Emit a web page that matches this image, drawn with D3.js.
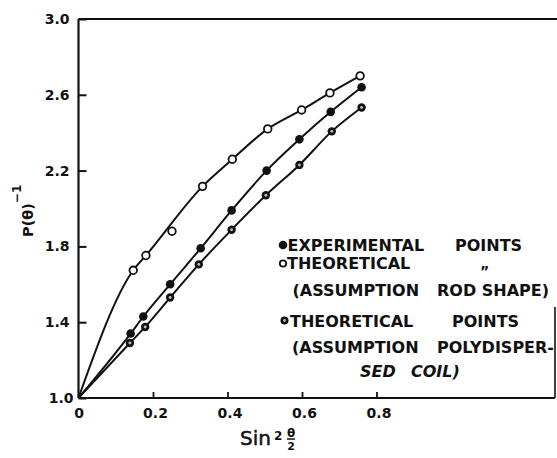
<!DOCTYPE html>
<html>
<head>
<meta charset="utf-8">
<script src="https://cdn.jsdelivr.net/npm/d3@7"></script>
<style>
  body { margin: 0; background: #fff; }
  svg { display: block; }
  text { fill: #111; }
</style>
</head>
<body>
<div id="chart"></div>
<script>
var width = 557,
    height = 458;

// values (sin^2(theta/2) vs P(theta)^-1)
var expX  = [0.140, 0.174, 0.246, 0.328, 0.411, 0.505, 0.593, 0.677, 0.760];
var expY  = [1.34, 1.43, 1.60, 1.79, 1.99, 2.20, 2.365, 2.51, 2.64];
var rodX  = [0.147, 0.181, 0.251, 0.333, 0.413, 0.508, 0.599, 0.675, 0.756];
var rodY  = [1.674, 1.752, 1.88, 2.117, 2.26, 2.42, 2.52, 2.61, 2.70];
var rodOffCurve = [2];   // the point at 0.25 lies off the drawn curve
var polyX = [0.138, 0.179, 0.246, 0.323, 0.411, 0.503, 0.593, 0.680, 0.760];
var polyY = [1.29, 1.375, 1.53, 1.705, 1.888, 2.07, 2.23, 2.407, 2.533];
var origin = {x: 0, y: 1.0};

var xTicks = [0, 0.2, 0.4, 0.6, 0.8];
var yTicks = [1.0, 1.4, 1.8, 2.2, 2.6, 3.0];

var legendLines = [
  {y: 250.5, words: [["EXPERIMENTAL", 287.5], ["POINTS", 455]]},
  {y: 269,   words: [["THEORETICAL", 287]]},
  {y: 296,   words: [["(ASSUMPTION", 292.5], ["ROD SHAPE)", 437]]},
  {y: 326.5, words: [["THEORETICAL", 290], ["POINTS", 452]]},
  {y: 353,   words: [["(ASSUMPTION", 292], ["POLYDISPER-", 437]]},
  {y: 376.5, words: [["SED", 360], ["COIL)", 411]], italic: true}
];

var x = d3.scaleLinear().domain([0, 0.8]).range([78.5, 376.5]);
var y = d3.scaleLinear().domain([1, 3]).range([398, 19]);
var xRight = 555;

var svg = d3.select("#chart").append("svg")
  .attr("width", width)
  .attr("height", height);

function zip(xs, ys) {
  return xs.map(function(v, i) { return {x: v, y: ys[i]}; });
}
var expPts = zip(expX, expY),
    rodPts = zip(rodX, rodY),
    polyPts = zip(polyX, polyY);

// frame: top line runs full width, right side only near the bottom
svg.append("line")
  .attr("x1", x(0)).attr("x2", width)
  .attr("y1", y(3)).attr("y2", y(3))
  .attr("stroke", "#111").attr("stroke-width", 2);
svg.append("line")
  .attr("x1", x(0)).attr("x2", x(0))
  .attr("y1", y(3)).attr("y2", y(1))
  .attr("stroke", "#111").attr("stroke-width", 2.2);
svg.append("line")
  .attr("x1", x(0)).attr("x2", xRight)
  .attr("y1", y(1)).attr("y2", y(1))
  .attr("stroke", "#111").attr("stroke-width", 2.2);
svg.append("line")
  .attr("x1", xRight).attr("x2", xRight)
  .attr("y1", 307).attr("y2", y(1))
  .attr("stroke", "#111").attr("stroke-width", 1.6);

// axes, ticks pointing inward
var yAxis = d3.axisLeft(y)
  .tickValues(yTicks)
  .tickSizeInner(-8).tickSizeOuter(0).tickPadding(9)
  .tickFormat(d3.format(".1f"));
var gy = svg.append("g").attr("transform", "translate(" + x(0) + ",0)").call(yAxis);
gy.select(".domain").remove();
gy.selectAll(".tick line").attr("stroke", "#111").attr("stroke-width", 2);
gy.selectAll(".tick text")
  .style("font", "bold 14px 'DejaVu Sans'")
  .attr("fill", "#111")
  .attr("dx", function(d) { return d === 1 ? 4 : 0; });

var xAxis = d3.axisBottom(x)
  .tickValues(xTicks)
  .tickSizeInner(-6).tickSizeOuter(0).tickPadding(10)
  .tickFormat(function(d) { return d === 0 ? "0" : d3.format(".1f")(d); });
var gx = svg.append("g").attr("transform", "translate(0," + y(1) + ")").call(xAxis);
gx.select(".domain").remove();
gx.selectAll(".tick line").attr("stroke", "#111").attr("stroke-width", 1.8);
gx.selectAll(".tick text")
  .style("font", "bold 14px 'DejaVu Sans'")
  .attr("fill", "#111")
  .attr("dx", function(d) { return d === 0 ? 0 : 2; });

// smooth curves through the points, starting at the origin
var line = d3.line()
  .x(function(d) { return x(d.x); })
  .y(function(d) { return y(d.y); })
  .curve(d3.curveMonotoneX);

var curves = [
  [origin].concat(rodPts.filter(function(d, i) { return rodOffCurve.indexOf(i) < 0; })),
  [origin].concat(expPts),
  [origin].concat(polyPts)
];
svg.append("g").selectAll("path")
  .data(curves)
  .enter().append("path")
  .attr("d", line)
  .attr("fill", "none").attr("stroke", "#111").attr("stroke-width", 2);

// markers
function filled(g, cx, cy, r) {
  g.append("circle").attr("cx", cx).attr("cy", cy).attr("r", r).attr("fill", "#111");
}
function open(g, cx, cy, r) {
  g.append("circle").attr("cx", cx).attr("cy", cy).attr("r", r)
    .attr("fill", "#fff").attr("stroke", "#111").attr("stroke-width", 1.8);
}
function dotted(g, cx, cy, r) {
  g.append("circle").attr("cx", cx).attr("cy", cy).attr("r", r).attr("fill", "#111");
  g.append("circle").attr("cx", cx).attr("cy", cy).attr("r", r * 0.35).attr("fill", "#bbb");
}

var marks = svg.append("g");
rodPts.forEach(function(d) { open(marks, x(d.x), y(d.y), 3.8); });
expPts.forEach(function(d) { filled(marks, x(d.x), y(d.y), 4.3); });
polyPts.forEach(function(d) { dotted(marks, x(d.x), y(d.y), 4.2); });

// legend
var leg = svg.append("g");
filled(leg, 283, 245, 4.3);
open(leg, 283, 263.5, 3.2);
dotted(leg, 284.5, 320.5, 4);

legendLines.forEach(function(l) {
  l.words.forEach(function(w) {
    leg.append("text")
      .attr("x", w[1]).attr("y", l.y)
      .style("font", (l.italic ? "italic " : "") + "bold 16px 'DejaVu Sans'")
      .text(w[0]);
  });
});
// ditto mark under POINTS
leg.append("text")
  .attr("x", 480).attr("y", 276)
  .style("font", "bold 14px 'DejaVu Sans'")
  .text("\u201D");

// x title: Sin^2 (theta / 2)
var xt = svg.append("g");
xt.append("text").attr("x", 240).attr("y", 445)
  .style("font", "20px 'DejaVu Sans'").attr("stroke", "#111").attr("stroke-width", 0.5)
  .text("Sin");
xt.append("text").attr("x", 274).attr("y", 440)
  .style("font", "bold 12px 'DejaVu Sans'").text("2");
xt.append("text").attr("x", 291).attr("y", 437).attr("text-anchor", "middle")
  .style("font", "bold 12px 'DejaVu Sans'").text("\u03B8");
xt.append("line").attr("x1", 287).attr("x2", 295).attr("y1", 439).attr("y2", 439)
  .attr("stroke", "#111").attr("stroke-width", 1.5);
xt.append("text").attr("x", 291).attr("y", 449.5).attr("text-anchor", "middle")
  .style("font", "bold 11px 'DejaVu Sans'").text("2");

// y title: P(theta)^-1
var yt = svg.append("text")
  .attr("transform", "translate(33,237) rotate(-90)")
  .style("font", "bold 14.5px 'DejaVu Sans'");
yt.append("tspan").text("P(\u03B8)");
yt.append("tspan").attr("dy", -12).style("font-size", "12px").text("\u22121");
</script>
</body>
</html>
